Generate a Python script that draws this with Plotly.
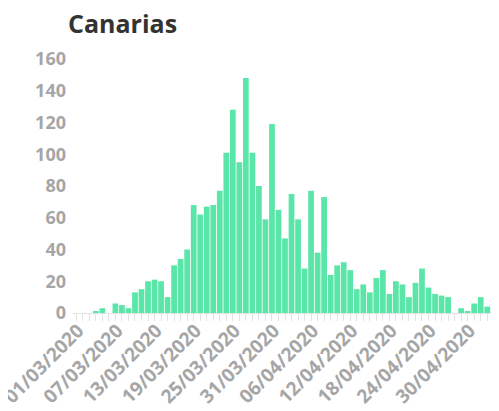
import plotly.graph_objects as go
import pandas as pd

title = "Canarias"
start_date = "2020-03-01"
cases = [0, 0, 0, 1, 3, 0, 6, 5, 3, 13, 15, 20, 21, 20, 10, 30, 34, 40, 68, 62,
         67, 68, 77, 101, 128, 95, 148, 101, 80, 59, 119, 65, 47, 75, 59, 28, 77, 38, 73, 24,
         30, 32, 27, 15, 18, 13, 22, 27, 12, 20, 18, 10, 19, 28, 16, 12, 11, 10, 0, 3,
         1, 6, 10, 4, 6]
tick_labels = ["01/03/2020", "07/03/2020", "13/03/2020", "19/03/2020", "25/03/2020",
               "31/03/2020", "06/04/2020", "12/04/2020", "18/04/2020", "24/04/2020",
               "30/04/2020"]
y_ticks = [0, 20, 40, 60, 80, 100, 120, 140, 160]

dates = pd.date_range(start_date, periods=len(cases), freq="D")
tick_vals = [pd.to_datetime(t, format="%d/%m/%Y").strftime("%Y-%m-%d") for t in tick_labels]
x_vals = [d.strftime("%Y-%m-%d") for d in dates]
x_range = [(dates[0] - pd.Timedelta(hours=12)).strftime("%Y-%m-%d %H:%M"),
           (dates[-1] + pd.Timedelta(hours=12)).strftime("%Y-%m-%d %H:%M")]

# page body has an 8px default margin, so the figure is sized 8px smaller
W, H = 491, 403

fig = go.Figure(go.Bar(x=x_vals, y=cases, marker=dict(color="#5AE6A8", line=dict(width=0))))

fig.update_layout(
    width=W, height=H,
    margin=dict(l=65, r=2, t=51, b=98),
    plot_bgcolor="white", paper_bgcolor="white",
    bargap=0.12,
    showlegend=False,
    title=dict(text=title, x=60/W, xanchor="left", xref="container",
               y=1-16/H, yanchor="middle",
               font=dict(family="Open Sans", size=25, color="#333333", weight="bold")),
    font=dict(family="Open Sans"),
)
fig.update_xaxes(
    type="date", automargin=False,
    range=x_range,
    tickvals=tick_vals, ticktext=tick_labels, tickangle=-45,
    tickfont=dict(family="Open Sans", size=19, color="#A6A6A6", weight="bold"),
    ticks="outside", ticklen=7, tickcolor="#E3E3E3", tickwidth=1,
    ticklabelstandoff=-9, ticklabelshift=2, ticklabeloverflow="allow",
    minor=dict(dtick=86400000, tick0=start_date, ticks="outside", ticklen=7, tickcolor="#E3E3E3", tickwidth=1),
    showline=True, linecolor="#E3E3E3", linewidth=1,
    showgrid=False, zeroline=False,
)
fig.update_yaxes(
    range=[0, 160], tickvals=y_ticks, automargin=False,
    tickfont=dict(family="Open Sans", size=18, color="#A6A6A6", weight="bold"),
    showgrid=False, zeroline=False, showline=False, ticks="", ticklabelstandoff=6,
)
fig.write_html("out.html")
